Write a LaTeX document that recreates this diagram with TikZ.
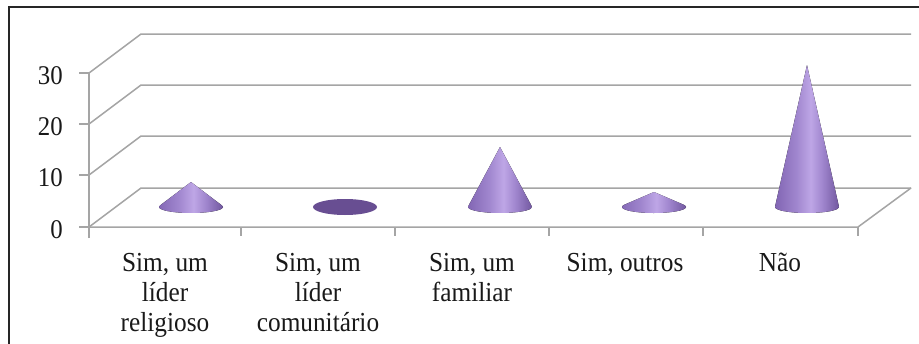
\documentclass[tikz,border=0pt]{standalone}
\usepackage{fontspec}
\setmainfont{Liberation Serif}
\newfontfamily\chartfont[FakeStretch=0.92]{Liberation Serif}
\definecolor{conedarkL}{RGB}{128,100,178}
\definecolor{conemid}{RGB}{160,134,206}
\definecolor{conelight}{RGB}{190,166,230}
\definecolor{conedarkR}{RGB}{112,86,158}
\definecolor{flatcone}{RGB}{104,78,146}
\definecolor{gridgray}{RGB}{165,165,165}
\definecolor{txt}{RGB}{25,25,25}
\pgfdeclarehorizontalshading{conesh}{100bp}{color(0bp)=(conedarkL); color(25bp)=(conedarkL); color(42bp)=(conemid); color(53bp)=(conelight); color(62bp)=(conemid); color(75bp)=(conedarkR); color(100bp)=(conedarkR)}
\newcommand\drawcone[3]{% center x, center y, height (pixel-down coords)
  \pgfmathsetmacro\cang{asin(6/#3)}
  \fill[shading=conesh] (#1,#2-#3) -- ([shift={(#1,#2)}]180+\cang:32 and 6)
    arc[start angle=180+\cang, end angle=-\cang, x radius=32, y radius=6] -- cycle;
}
\begin{document}
\begin{tikzpicture}[x=1pt,y=1pt,yscale=-1,
  grid/.style={draw=gridgray, line width=1.5pt},
  ylab/.style={anchor=east, inner sep=0pt, text=txt, font=\chartfont\fontsize{27}{30}\selectfont},
  catlab/.style={anchor=north, inner sep=0pt, align=center, text=txt, font=\chartfont\fontsize{27.5}{30}\selectfont}]
\useasboundingbox (0,0) rectangle (919,343);
\clip (0,0) rectangle (919,343);
\fill[white] (0,0) rectangle (919,343);
% frame
\draw[line width=1.8pt, black!85] (9,360) -- (9,7) -- (930,7);
% coordinates
\coordinate (f0) at (89,227); \coordinate (f10) at (89,175);
\coordinate (f20) at (89,124); \coordinate (f30) at (89,73);
\coordinate (b0) at (141,188); \coordinate (b10) at (141,136);
\coordinate (b20) at (141,85); \coordinate (b30) at (141,34);
\coordinate (fr) at (858,227); \coordinate (br) at (911,188);
% back wall lines
\foreach \v in {0,10,20,30}{
  \draw[grid] (f\v) -- (b\v) -- ++(770,0);
  \draw[grid] (f\v) -- ++(-10,0);
}
% axis and floor
\draw[grid] (89,238) -- (f30);
\draw[grid] (f0) -- (fr) -- (br);
\foreach \x in {241,395,549,703,858}{\draw[grid] (\x,227) -- (\x,236);}
% cones
\drawcone{191}{207}{25}
\fill[flatcone] (345,207) ellipse[x radius=32, y radius=8];
\drawcone{500}{207}{60}
\drawcone{654}{207}{15}
\drawcone{807}{207}{142}
% y labels
\node[ylab] (y0) at (63,230) {0};
\node[ylab] (y10) at (63,178) {10};
\node[ylab] (y20) at (63,127) {20};
\node[ylab] (y30) at (63,76) {30};
% category labels
\node[catlab] (c1) at (165,247) {\rule{0pt}{24pt}Sim, um\\líder\\religioso};
\node[catlab] (c2) at (318,247) {\rule{0pt}{24pt}Sim, um\\líder\\comunitário};
\node[catlab] (c3) at (472,247) {\rule{0pt}{24pt}Sim, um\\familiar};
\node[catlab] (c4) at (625,247) {\rule{0pt}{24pt}Sim, outros};
\node[catlab] (c5) at (780,247) {\rule{0pt}{24pt}Não};
\end{tikzpicture}
\end{document}
